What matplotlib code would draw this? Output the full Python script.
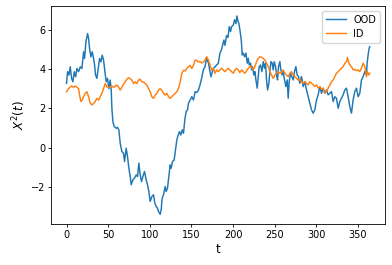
import matplotlib
matplotlib.use("Agg")
import matplotlib.pyplot as plt

t_ood = [0, 1.3, 2.9, 4.5, 6.1, 7.7, 9.3, 10.9, 12.5, 14.5, 16.5, 18.5, 20.5, 21.7, 23.3, 25.3,
         26.5, 27.7, 29.3, 30.9, 32.5, 33.7, 34.9, 36.5, 38.1, 39.7, 41.3, 42.9, 44.5, 46.1,
         47.7, 49.3, 50.9, 52.5, 53.7, 54.5, 55.7, 57.3, 59.7, 61.3, 62.9, 64.5, 66.5, 68.5,
         69.7, 71.7, 73.3, 74.9, 76.5, 77.7, 79.7, 81.7, 83.7, 85.3, 86.9, 88.5, 90.1, 91.7,
         93.7, 95.7, 97.3, 98.9, 100.5, 102.5, 104.5, 106.1, 107.7, 109.3, 110.5, 112.5,
         113.7, 114.9, 116.5, 118.5, 119.7, 121.3, 122.9, 124.5, 125.7, 127.3, 129.3, 130.9,
         132.5, 134.1, 135.7, 137.3, 138.9, 140.5, 142.1, 143.7, 145.3, 146.5, 148.5, 150.5,
         152.5, 154.5, 156.3, 158.3, 160.3, 162.3, 164.3, 166.3, 168.3, 170.5, 173.5, 176.3,
         178.3, 180.3, 182.3, 184.3, 186.3, 189.1, 190.3, 192.3, 194, 195.5, 197, 198.3, 200.3,
         201.9, 203.5, 204.7, 205.9, 207.1, 208.3, 209.9, 211.1, 212.3, 213.9, 215.5, 217.1,
         218.3, 219.5, 221.1, 222.3, 223.5, 225.1, 226.3, 227.5, 229.1, 230.3, 231.5, 233.1,
         234.7, 236.3, 237.9, 239.1, 240.3, 241.5, 243.1, 244.3, 245.5, 247.1, 248.3, 249.5,
         251.1, 252.3, 253.5, 254.7, 256.3, 257.5, 259.1, 260.3, 261.9, 263.5, 265.1, 266.3,
         267.5, 269.1, 270.7, 272.3, 273.9, 275.5, 277.1, 278.7, 280.3, 282.3, 284.3, 286.3,
         288.3, 290.3, 292.3, 294.3, 296.3, 298.3, 300.3, 302.3, 304.3, 306.3, 308.3, 310.3,
         312.3, 314.3, 316.3, 318.3, 320.3, 322.3, 324.3, 326.3, 328.3, 330.3, 332.3, 334.3,
         336.3, 338.3, 340.3, 342.3, 344.3, 346.3, 348.3, 350.3, 352.3, 354.3, 356.3, 358.3,
         360.3, 361.1, 362.3, 363.5, 364.3]
ood = [3.27, 3.86, 3.69, 4.11, 3.52, 3.35, 3.86, 3.6, 4.02, 3.86, 4.11, 4.02, 4.87, 4.53, 5.38, 5.8,
       5.55, 5.04, 4.61, 4.87, 4.53, 4.2, 3.69, 3.52, 4.02, 4.53, 4.36, 4.7, 4.45, 3.86,
       3.35, 3.52, 3.0, 3.43, 2.92, 2.0, 1.32, 1.07, 0.98, 1.03, 0.90, 0.22, -0.2, -0.29,
       -0.71, -0.03, -0.46, -1.05, -1.47, -1.89, -1.64, -1.55, -1.39, -1.47, -0.79, -1.39, -1.73, -1.47,
       -1.22, -1.64, -1.89, -2.23, -2.74, -2.49, -2.40, -2.82, -2.99, -3.08, -3.25, -3.39,
       -3.16, -2.57, -2.40, -1.98, -2.23, -2.06, -1.47, -0.88, -1.05, -0.71, -0.63, -0.12,
       0.39, 0.64, 0.81, 0.64, 0.90, 0.73, 1.41, 1.83, 1.91, 2.25, 2.42, 2.59,
       2.42, 2.84, 2.8, 2.9, 3.18, 3.52, 3.94, 4.11, 4.54, 4.3, 3.6, 4.03,
       4.1, 4.2, 4.28, 4.8, 5.0, 5.47, 5.2, 5.7, 5.6, 6.15, 5.9, 6.15, 6.23,
       6.5, 6.3, 6.69, 6.45, 6.3, 5.98, 5.47, 4.71, 4.8, 4.62, 4.8, 4.29,
       4.54, 4.2, 4.29, 3.95, 4.12, 3.69, 3.86, 3.44, 3.02, 3.61, 4.12, 4.2,
       3.86, 4.37, 4.03, 4.29, 3.44, 2.93, 3.27, 3.86, 4.37, 4.29, 3.95, 4.37,
       4.12, 3.69, 3.44, 4.12, 4.37, 3.95, 3.69, 3.86, 3.44, 3.1, 3.44, 2.51,
       3.35, 3.78, 3.61, 3.44, 3.86, 4.12, 3.69, 3.61, 3.27, 3.61, 3.1, 3.35,
       2.93, 2.59, 2.25, 1.92, 1.75, 1.92, 2.42, 2.68, 3.1, 2.76, 3.02, 2.76,
       2.93, 2.68, 2.76, 2.85, 2.34, 2.59, 2.51, 2.0, 2.34, 2.51, 2.68, 2.93,
       3.02, 2.59, 2.09, 1.75, 2.42, 2.85, 3.02, 2.59, 2.76, 3.44, 3.61, 3.86,
       3.69, 4.29, 4.71, 5.05, 5.13]

t_id = [0, 1.3, 3.7, 6.5, 8.5, 10.5, 12.5, 14.5, 15.7, 17.3, 18.9, 20.5, 22.5, 24.5, 26.5, 28.5,
        30.5, 32.5, 34.5, 36.5, 38.5, 40.5, 42.5, 44.5, 46.5, 48.5, 50.5, 52.5, 54.5, 56.5,
        58.5, 60.5, 62.5, 64.5, 66.5, 68.5, 70.5, 72.5, 74.5, 76.5, 78.5, 80.5, 82.5, 84.5,
        86.5, 88.5, 90.5, 92.5, 94.5, 96.5, 98.5, 100.5, 102.5, 104.5, 106.5, 108.5, 110.5,
        112.5, 114.5, 116.5, 118.5, 120.5, 122.5, 124.5, 126.5, 128.5, 130.5, 132.5, 134.5,
        136.5, 138.5, 140.5, 142.5, 144.5, 146.5, 148.5, 150.5, 152.5, 154.5, 156.5, 158.5,
        160.5, 162.5, 164.5, 166.5, 168.3, 170.5, 172.5, 174.5, 176.5, 178.3, 180.5, 182.5,
        184.3, 186.3, 188.3, 190.3, 192.3, 194.3, 196.3, 198.3, 200.3, 202.3, 204.3, 206.3,
        208.3, 210.3, 212.3, 214.3, 216.3, 218.3, 220.3, 222.3, 224.3, 226.3, 228.3, 230.3,
        232.3, 234.3, 236.3, 238.3, 240.3, 242.3, 244.3, 246.3, 248.3, 250.3, 252.3, 254.3,
        256.3, 258.3, 260.3, 262.3, 264.3, 266.3, 268.3, 270.3, 272.3, 274.3, 276.3, 278.3,
        280.3, 282.3, 284.3, 286.3, 288.3, 290.3, 292.3, 294.3, 296.3, 298.3, 300.3, 302.3,
        304.3, 306.3, 308.3, 310.3, 312.3, 314.3, 316.3, 318.3, 320.3, 322.3, 324.3, 326.3,
        328.3, 330.3, 332.3, 334.3, 336.3, 337.5, 338.7, 340.3, 342.3, 344.3, 346.3, 348.3,
        350.3, 352.3, 354.3, 356.3, 358.3, 360.3, 361.5, 363.1, 364.3]
id_vals = [2.84, 2.92, 3.06, 3.13, 3.06, 3.13, 3.06, 3.0, 2.67, 2.34, 2.42, 2.59, 2.76, 2.84, 2.59, 2.25,
           2.17, 2.25, 2.34, 2.5, 2.42, 2.59, 2.76, 3.0, 3.26, 3.09, 3.06, 3.09, 3.13, 3.06,
           3.13, 3.18, 3.09, 2.92, 3.06, 3.23, 3.34, 3.48, 3.55, 3.51, 3.43, 3.26, 3.34, 3.26,
           3.43, 3.48, 3.34, 3.34, 3.26, 3.18, 3.0, 2.84, 2.59, 2.5, 2.67, 2.76, 2.92,
           3.0, 2.92, 2.76, 2.67, 2.76, 2.59, 2.5, 2.59, 2.67, 2.76, 2.84, 3.0,
           3.34, 3.76, 3.93, 3.9, 4.02, 4.11, 4.18, 4.02, 4.18, 4.45, 4.44, 4.35,
           4.37, 4.3, 4.35, 4.45, 4.62, 4.45, 4.18, 3.94, 4.02, 3.78, 3.95, 3.86,
           3.95, 4.03, 3.95, 3.86, 3.95, 4.03, 3.95, 3.86, 3.78, 3.95, 4.03, 3.95,
           3.81, 3.95, 3.86, 3.78, 3.91, 4.03, 4.12, 4.12, 3.95, 4.12, 4.37, 4.54,
           4.62, 4.59, 4.54, 4.45, 4.29, 4.12, 3.86, 3.69, 3.52, 3.69, 3.78, 3.86,
           3.78, 3.81, 3.95, 3.78, 3.69, 3.61, 3.78, 3.86, 3.69, 3.61, 3.52, 3.44,
           3.47, 3.35, 3.27, 3.35, 3.27, 3.19, 3.35, 3.27, 3.19, 3.1, 3.19, 3.02,
           3.1, 2.97, 3.02, 2.76, 2.85, 3.02, 3.19, 3.35, 3.44, 3.61, 3.78, 3.86,
           3.95, 4.03, 4.12, 4.29, 4.37, 4.59, 4.37, 4.2, 4.12, 3.95, 3.98, 3.91,
           3.95, 3.86, 4.03, 4.29, 4.12, 3.61, 3.86, 3.69, 3.78]

series_labels = ["OOD", "ID"]
x_label = "t"
y_label = "$X^2(t)$"

fig = plt.figure(figsize=(3.92, 2.65), dpi=100)
ax = fig.add_axes([0.131, 0.154, 0.851, 0.823])
ax.plot(t_ood, ood, color="#1f77b4", lw=1.05, label=series_labels[0])
ax.plot(t_id, id_vals, color="#ff7f0e", lw=1.05, label=series_labels[1])
ax.set_xticks([0, 50, 100, 150, 200, 250, 300, 350])
ax.set_yticks([-2, 0, 2, 4, 6])
ax.tick_params(labelsize=7, length=2.4, width=0.6, pad=2)
for s in ax.spines.values():
    s.set_linewidth(0.6)
ax.set_xlabel(x_label, fontsize=8.5, labelpad=2)
ax.set_ylabel(y_label, fontsize=8.5, labelpad=2)
ax.legend(loc="upper right", fontsize=7, handlelength=2.0, borderpad=0.4, labelspacing=0.4)
fig.savefig("out.png", dpi=100)
